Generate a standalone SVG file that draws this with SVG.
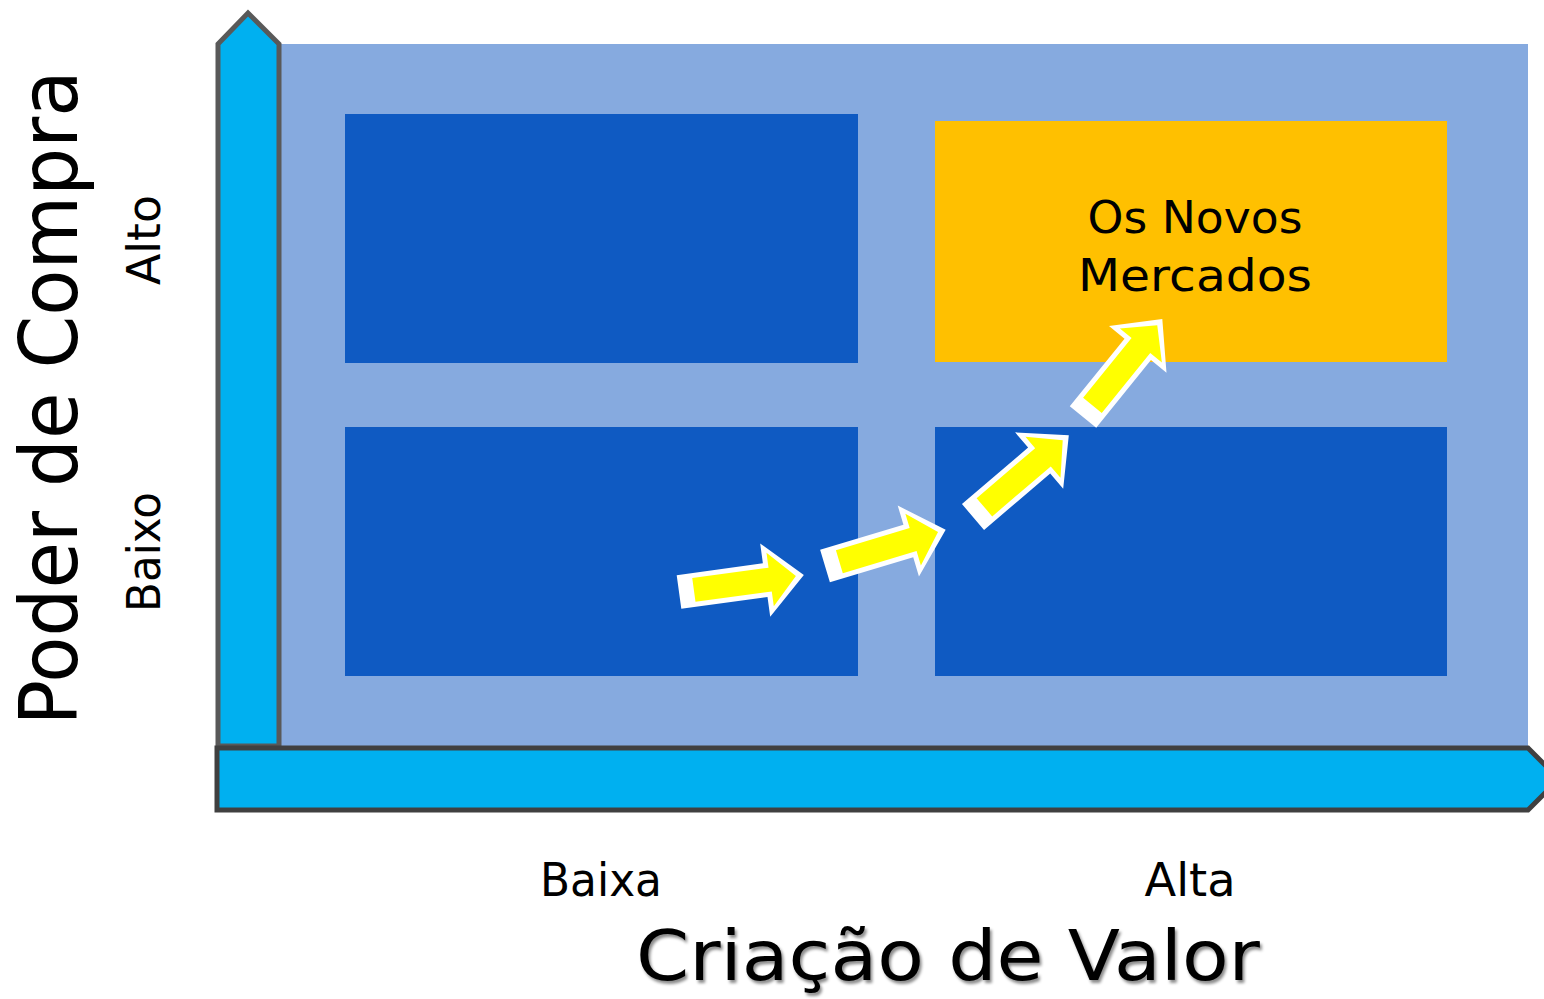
<svg xmlns="http://www.w3.org/2000/svg" width="1544" height="999" viewBox="0 0 1544 999">
<style>
.q{fill:#0F5AC2}
.t{font-family:"DejaVu Sans","Liberation Sans",sans-serif;fill:#000}
.ax{fill:#00B0F0;stroke-linejoin:miter}
</style>
<defs>
<filter id="sh" x="-5%" y="-20%" width="110%" height="140%">
<feDropShadow dx="2" dy="3" stdDeviation="1.5" flood-color="#000" flood-opacity="0.45"/>
</filter>
<g id="arr">
<polygon points="0,-17 87,-17 87,-37 126,0 87,37 87,17 0,17" fill="#FFFFFF"/>
<polygon points="15,-12 92,-12 92,-27 118,0 92,27 92,12 15,12" fill="#FFFF00"/>
</g>
</defs>
<rect width="1544" height="999" fill="#FFFFFF"/>
<g id="background">
<rect x="280" y="44" width="1248" height="702" fill="#86AADF"/>
</g>
<g id="quadrant-tl"><rect class="q" x="345" y="114" width="513" height="249"/></g>
<g id="quadrant-bl"><rect class="q" x="345" y="427" width="513" height="249"/></g>
<g id="quadrant-br"><rect class="q" x="935" y="427" width="512" height="249"/></g>
<g id="quadrant-tr">
<rect x="935" y="121" width="512" height="241" fill="#FFC000"/>
<text class="t" x="1195" y="233" font-size="44" text-anchor="middle" textLength="215" lengthAdjust="spacingAndGlyphs">Os Novos</text>
<text class="t" x="1195" y="291" font-size="44" text-anchor="middle" textLength="234" lengthAdjust="spacingAndGlyphs">Mercados</text>
</g>
<g id="y-axis">
<polygon class="ax" points="218,746 218,44 248,13 279,44 279,746" stroke="#595959" stroke-width="5"/>
</g>
<g id="x-axis">
<polygon class="ax" points="217,748 1528,748 1559,779 1528,810 217,810" stroke="#404040" stroke-width="5"/>
</g>
<g id="connectors">
<use href="#arr" transform="translate(679,592) rotate(-7.8)"/>
<use href="#arr" transform="translate(825,566) rotate(-16.7)"/>
<use href="#arr" transform="translate(973,517) rotate(-40.5)"/>
<use href="#arr" transform="translate(1083,417) rotate(-51)"/>
</g>
<g id="labels">
<text class="t" x="601" y="896" font-size="46" text-anchor="middle" textLength="122" lengthAdjust="spacingAndGlyphs">Baixa</text>
<text class="t" x="1190" y="896" font-size="46" text-anchor="middle" textLength="91" lengthAdjust="spacingAndGlyphs">Alta</text>
<text class="t" x="948" y="980" font-size="70" text-anchor="middle" textLength="624" lengthAdjust="spacingAndGlyphs" filter="url(#sh)">Criação de Valor</text>
<text class="t" transform="translate(77,398) rotate(-90)" font-size="80" text-anchor="middle" textLength="655" lengthAdjust="spacingAndGlyphs">Poder de Compra</text>
<text class="t" transform="translate(160,240) rotate(-90)" font-size="46" text-anchor="middle" textLength="90" lengthAdjust="spacingAndGlyphs">Alto</text>
<text class="t" transform="translate(160,552) rotate(-90)" font-size="46" text-anchor="middle" textLength="120" lengthAdjust="spacingAndGlyphs">Baixo</text>
</g>
</svg>
